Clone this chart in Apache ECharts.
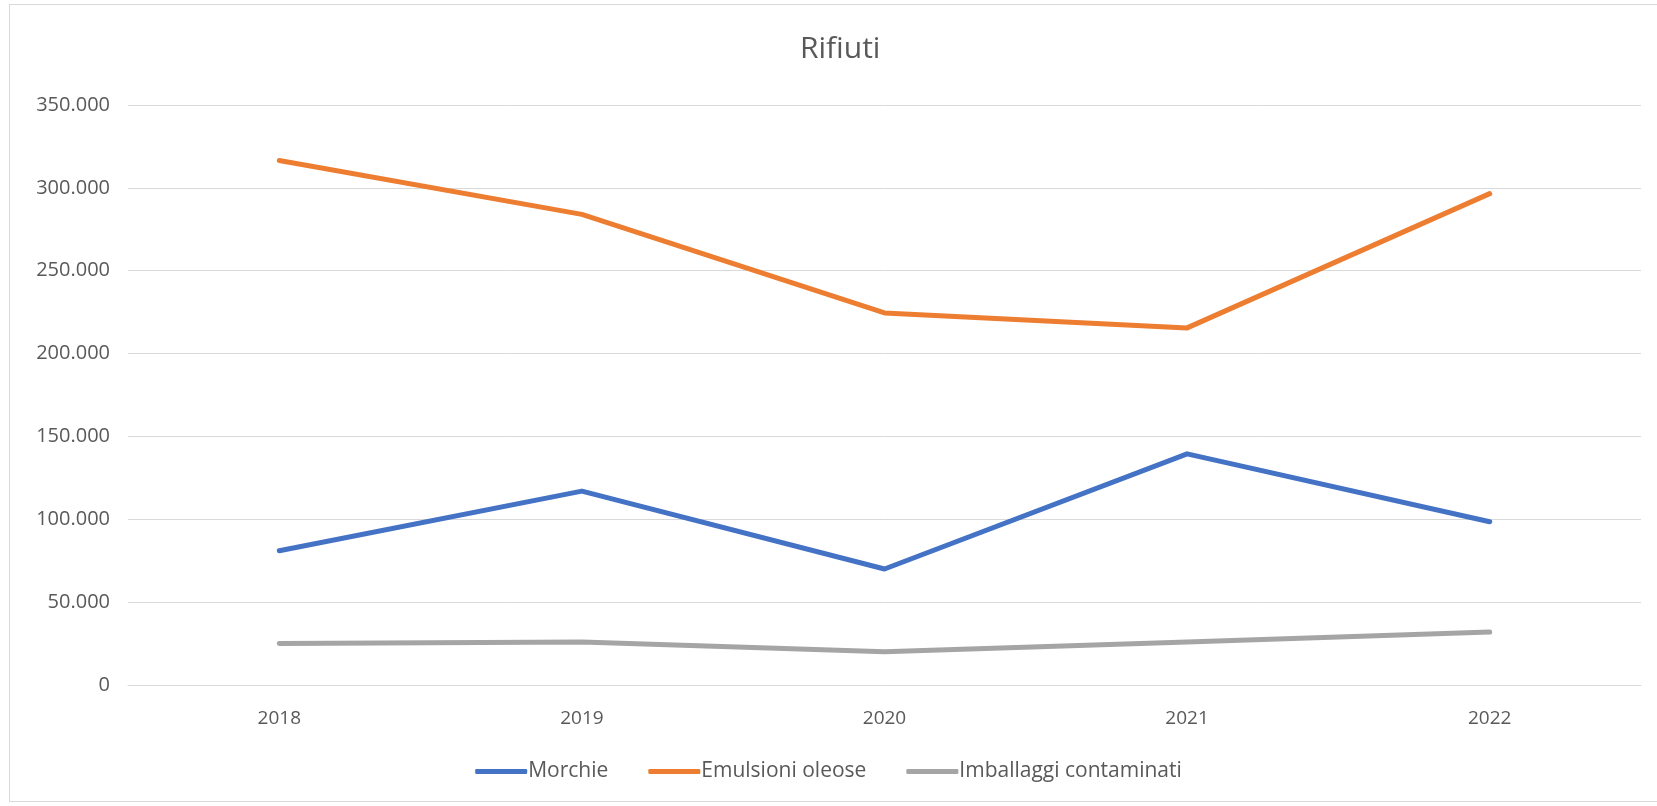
<!DOCTYPE html>
<html>
<head>
<meta charset="utf-8">
<script src="https://cdn.jsdelivr.net/npm/echarts@6/dist/echarts.min.js"></script>
<style>
  html, body { margin: 0; padding: 0; background: #fff; overflow: hidden; }
  #frame { position: absolute; left: 9px; top: 4px; width: 1660px; height: 798px; border: 1px solid #d9d9d9; box-sizing: border-box; }
  #chart { position: absolute; left: 0; top: 0; width: 1657px; height: 806px; }
</style>
</head>
<body>
<div id="frame"></div>
<div id="chart"></div>
<script>
const years = ['2018', '2019', '2020', '2021', '2022'];
const morchie = [81000, 117000, 70000, 139500, 98500];
const emulsioni = [316500, 284000, 224500, 215500, 296500];
const imballaggi = [25000, 26000, 20000, 26000, 32000];
const yTicks = [0, 50000, 100000, 150000, 200000, 250000, 300000, 350000];

function fmt(v) {
  return v === 0 ? '0' : String(v).replace(/\B(?=(\d{3})+(?!\d))/g, '.');
}

const chart = echarts.init(document.getElementById('chart'));
const font = '"Open Sans", "Liberation Sans", sans-serif';
function mk(name, data, color) {
  return {
    name: name, type: 'line', data: data, symbol: 'none',
    lineStyle: { width: 5, color: color, cap: 'round', join: 'round' },
    itemStyle: { color: color }
  };
}
chart.setOption({
  animation: false,
  title: {
    text: 'Rifiuti', left: 795, top: 29,
    textStyle: { fontFamily: font, fontSize: 30, fontWeight: 'normal', color: '#595959' }
  },
  grid: { left: 128, right: 16, top: 105, bottom: 121 },
  legend: {
    top: 756, left: 'center',
    icon: 'roundRect', itemWidth: 52, itemHeight: 5, itemGap: 40,
    textStyle: { fontFamily: font, fontSize: 21, color: '#595959', padding: [0, 0, 0, -4] },
    data: ['Morchie', 'Emulsioni oleose', 'Imballaggi contaminati']
  },
  xAxis: {
    type: 'category', data: years, boundaryGap: true,
    axisLine: { lineStyle: { color: '#d9d9d9', width: 1 } },
    axisTick: { show: false },
    axisLabel: { fontFamily: font, fontSize: 19, color: '#595959', margin: 24 }
  },
  yAxis: {
    type: 'value', min: yTicks[0], max: yTicks[yTicks.length - 1], interval: 50000,
    axisLine: { show: false }, axisTick: { show: false },
    splitLine: { lineStyle: { color: '#d9d9d9', width: 1 } },
    axisLabel: { fontFamily: font, fontSize: 20, color: '#595959', margin: 18, formatter: fmt }
  },
  series: [
    mk('Morchie', morchie, '#4472C4'),
    mk('Emulsioni oleose', emulsioni, '#ED7D31'),
    mk('Imballaggi contaminati', imballaggi, '#A5A5A5')
  ]
});
</script>
</body>
</html>
